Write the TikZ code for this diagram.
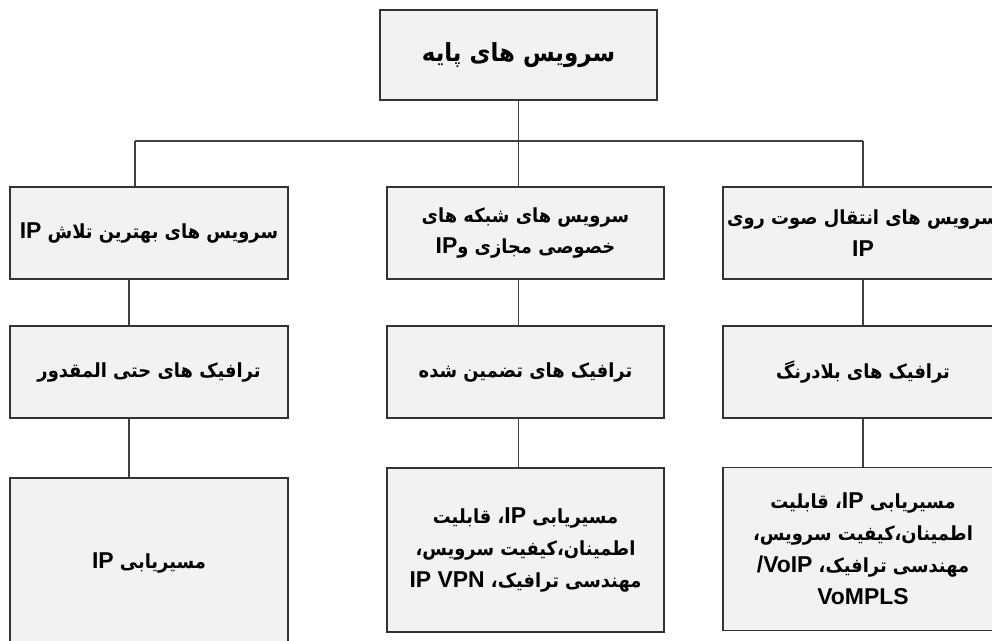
\documentclass[tikz,border=0pt]{standalone}
\usepackage{fontspec}
\setmainfont{Liberation Sans}
\newfontfamily\fafont[Script=Arabic, FakeStretch=0.92]{DejaVu Sans}
\TeXXeTstate=1
\newcommand{\rl}[1]{\beginR #1\endR}
\newcommand{\en}[1]{\beginL{\normalfont\bfseries\fontsize{23}{31}\selectfont #1}\endL}
\definecolor{boxfill}{HTML}{F2F2F2}
\definecolor{boxline}{HTML}{333333}
\definecolor{connline}{HTML}{404040}
\tikzset{
  box/.style={draw=boxline, fill=boxfill, line width=1.3bp, inner sep=0pt,
    align=center, font=\fafont\bfseries\fontsize{19.5}{32}\selectfont},
  conn/.style={draw=connline, line width=1.1bp},
}
\begin{document}
\begin{tikzpicture}[x=1bp,y=-1bp]
\useasboundingbox (0,0) rectangle (992,641);
\clip (0,0) rectangle (992,641);
\fill[white] (0,0) rectangle (992,641);
% top
\node[box, minimum width=277bp, minimum height=90bp, font=\fafont\bfseries\fontsize{25}{30}\selectfont] (top) at (518.5,55) {\rl{سرویس های پایه}};
% row 2
\node[box, minimum width=278bp, minimum height=92bp] (r2a) at (149,233) {\rl{سرویس های بهترین تلاش \en{IP}}};
\node[box, minimum width=277bp, minimum height=92bp] (r2b) at (525.5,233) {\rl{سرویس های شبکه های}\\\rl{خصوصی مجازی و\en{IP}}};
\node[box, minimum width=280bp, minimum height=92bp] (r2c) at (863,233) {\rl{سرویس های انتقال صوت روی}\\\en{IP}};
% row 3
\node[box, minimum width=278bp, minimum height=92bp] (r3a) at (149,372) {\rl{ترافیک های حتی المقدور}};
\node[box, minimum width=277bp, minimum height=92bp] (r3b) at (525.5,372) {\rl{ترافیک های تضمین شده}};
\node[box, minimum width=280bp, minimum height=92bp] (r3c) at (863,372) {\rl{ترافیک های بلادرنگ}};
% row 4
\node[box, minimum width=278bp, minimum height=170bp] (r4a) at (149,563) {\rl{مسیریابی \en{IP}}};
\node[box, minimum width=277bp, minimum height=164bp] (r4b) at (525.5,550) {\rl{مسیریابی \en{IP}، قابلیت}\\\rl{اطمینان،کیفیت سرویس،}\\\rl{مهندسی ترافیک، \en{IP VPN}}};
\node[box, minimum width=280bp, minimum height=163bp] (r4c) at (863,549) {\rl{مسیریابی \en{IP}، قابلیت}\\\rl{اطمینان،کیفیت سرویس،}\\\rl{مهندسی ترافیک، \en{VoIP}\en{/}}\\\en{VoMPLS}};
% connectors
\coordinate (jT) at (518.5,141);
\coordinate (jL) at (135,141);
\coordinate (jR) at (863,141);
\coordinate (cL) at (129,0);
\draw[conn] (top.south -| jT) -- (jT);
\draw[conn] (jL) -- (jR);
\draw[conn] (jL) -- (jL |- r2a.north);
\draw[conn] (jT) -- (jT |- r2b.north);
\draw[conn] (jR) -- (jR |- r2c.north);
\draw[conn] (r2a.south -| cL) -- (r3a.north -| cL);
\draw[conn] (r2b.south -| jT) -- (r3b.north -| jT);
\draw[conn] (r2c.south -| jR) -- (r3c.north -| jR);
\draw[conn] (r3a.south -| cL) -- (r4a.north -| cL);
\draw[conn] (r3b.south -| jT) -- (r4b.north -| jT);
\draw[conn] (r3c.south -| jR) -- (r4c.north -| jR);
\end{tikzpicture}
\end{document}
